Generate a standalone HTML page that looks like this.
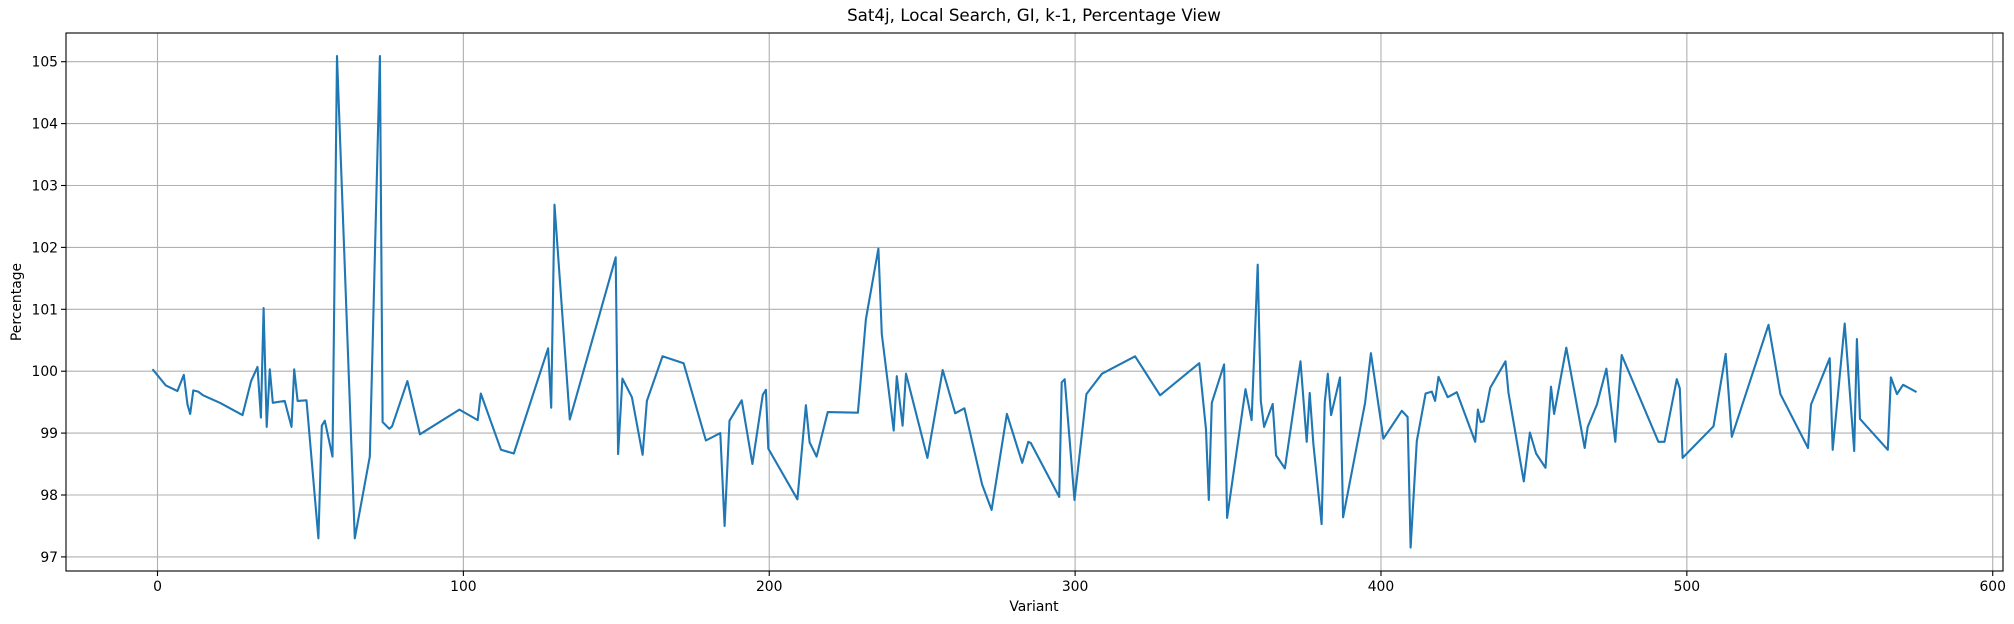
<!DOCTYPE html>
<html><head><meta charset="utf-8"><style>
html,body{margin:0;padding:0;background:#fff;}
svg{display:block;font-family:"DejaVu Sans","Liberation Sans",sans-serif;}
</style></head><body>
<svg id="chart" width="2014" height="624" viewBox="0 0 2014 624" xmlns="http://www.w3.org/2000/svg">
<rect x="0" y="0" width="2014" height="624" fill="#fff"/>
<text x="1034" y="21" font-size="16.7" text-anchor="middle" fill="#000">Sat4j, Local Search, GI, k-1, Percentage View</text>
<g id="grid"></g>
<g id="series"></g>
<rect x="66" y="33" width="1937" height="538" fill="none" stroke="#000" stroke-width="1.1"/>
<g id="xticks"></g>
<g id="yticks"></g>
<text x="1034" y="611" font-size="13.9" text-anchor="middle" fill="#000">Variant</text>
<text transform="translate(21,302) rotate(-90)" font-size="13.9" text-anchor="middle" fill="#000">Percentage</text>
</svg>
<script>
const xVals=[-1.4,2.7,6.5,8.6,9.8,10.7,11.7,13.3,14.9,20.4,27.8,30.6,32.7,33.8,34.7,35.7,36.7,37.7,41.6,43.8,44.7,45.8,48.7,52.6,53.7,54.7,57.2,58.7,64.5,69.4,72.7,73.6,75.8,76.7,81.7,85.8,98.7,104.7,105.7,112.3,116.5,127.7,128.7,129.8,134.8,149.8,150.6,152.0,155.1,158.6,160,165.1,172,179.3,184,185.4,187,191,194.5,197.9,198.9,199.7,209.2,212,213.2,215.5,219.1,229,231.6,235.7,236.8,240.7,241.7,243.6,244.7,251.7,256.7,260.8,263.8,269.6,272.7,277.7,282.7,284.7,285.5,294.8,295.6,296.6,299.8,303.7,308.8,319.6,327.8,340.6,342.8,343.7,344.7,348.7,349.7,355.7,357.7,359.7,360.7,361.8,364.6,365.7,368.6,373.7,375.7,376.7,377.9,380.6,381.6,382.6,383.7,386.6,387.6,394.8,396.7,400.8,406.8,408.7,409.7,411.7,414.6,416.6,417.7,418.8,421.8,424.8,430.8,431.7,432.6,433.6,435.7,440.7,441.7,446.7,448.7,450.7,453.8,455.6,456.6,460.6,466.6,467.6,470.6,473.7,476.6,478.7,490.7,492.7,496.7,497.7,498.6,508.7,512.7,514.7,526.7,530.6,539.6,540.6,546.7,547.7,551.6,554.7,555.6,556.6,565.7,566.7,568.7,570.7,574.8];
const yVals=[100.02,99.77,99.68,99.94,99.46,99.31,99.69,99.67,99.61,99.49,99.29,99.84,100.07,99.25,101.02,99.10,100.03,99.49,99.52,99.10,100.03,99.52,99.53,97.3,99.12,99.2,98.62,105.09,97.3,98.62,105.09,99.18,99.07,99.11,99.84,98.98,99.38,99.21,99.64,98.73,98.67,100.37,99.41,102.69,99.22,101.84,98.66,99.88,99.58,98.65,99.52,100.24,100.13,98.88,99.0,97.5,99.2,99.53,98.5,99.62,99.7,98.75,97.93,99.45,98.85,98.62,99.34,99.33,100.84,101.98,100.6,99.04,99.92,99.12,99.96,98.6,100.02,99.32,99.4,98.17,97.76,99.31,98.52,98.86,98.84,97.97,99.82,99.87,97.92,99.63,99.96,100.24,99.61,100.13,99.06,97.92,99.49,100.11,97.63,99.71,99.21,101.72,99.52,99.1,99.47,98.64,98.43,100.16,98.86,99.65,98.82,97.53,99.49,99.96,99.29,99.9,97.64,99.49,100.29,98.91,99.36,99.26,97.15,98.87,99.64,99.67,99.52,99.91,99.58,99.66,98.86,99.38,99.18,99.19,99.73,100.16,99.65,98.22,99.01,98.67,98.44,99.75,99.31,100.38,98.76,99.1,99.46,100.04,98.86,100.26,98.86,98.86,99.87,99.72,98.6,99.11,100.28,98.94,100.75,99.63,98.76,99.46,100.21,98.73,100.77,98.71,100.52,99.23,98.73,99.9,99.63,99.78,99.67];
const xTicks=[0,100,200,300,400,500,600];
const yTicks=[97,98,99,100,101,102,103,104,105];

const L=66,R=2003,T=33,B=571;
function sx(v){return 157.5+v*3.0587;}
function sy(v){return 61.7+(105-v)*61.9;}
const NS="http://www.w3.org/2000/svg";
function mk(tag,attrs,parent){const e=document.createElementNS(NS,tag);for(const k in attrs)e.setAttribute(k,attrs[k]);parent.appendChild(e);return e;}
const grid=document.getElementById('grid'),xt=document.getElementById('xticks'),yt=document.getElementById('yticks'),ser=document.getElementById('series');
xTicks.forEach(v=>{
  const x=sx(v);
  const g=mk('line',{x1:x,x2:x,y1:T,y2:B,stroke:'#b0b0b0','stroke-width':1.1},grid);
  
  
  const t=mk('line',{x1:x,x2:x,y1:B,y2:B+5,stroke:'#000','stroke-width':1.1},xt);
  
  
  const l=mk('text',{x:x,y:B+20,'font-size':13.9,'text-anchor':'middle',fill:'#000'},xt);
  l.textContent=v;
  
  
});
yTicks.forEach(v=>{
  const y=sy(v);
  const g=mk('line',{x1:L,x2:R,y1:y,y2:y,stroke:'#b0b0b0','stroke-width':1.1},grid);
  
  
  const t=mk('line',{x1:L-5,x2:L,y1:y,y2:y,stroke:'#000','stroke-width':1.1},yt);
  
  
  const l=mk('text',{x:L-8,y:y+5,'font-size':13.9,'text-anchor':'end',fill:'#000'},yt);
  l.textContent=v;
  
  
});
const pts=xVals.map((x,i)=>sx(x).toFixed(1)+','+sy(yVals[i]).toFixed(1)).join(' ');
const pl=mk('polyline',{points:pts,fill:'none',stroke:'#1f77b4','stroke-width':2.1,'stroke-linejoin':'round','stroke-linecap':'square'},ser);


</script>
</body></html>
